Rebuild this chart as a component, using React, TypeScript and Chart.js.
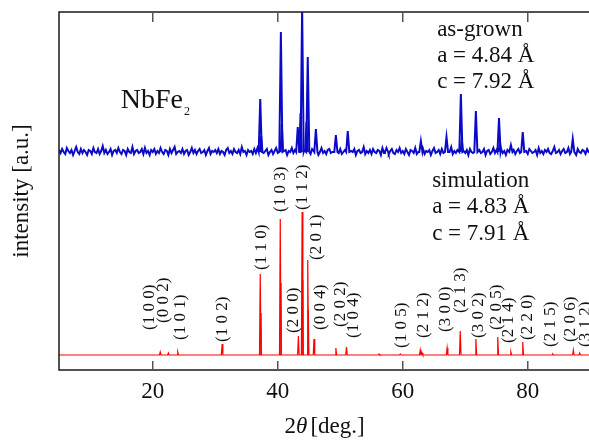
import React, { useEffect, useRef } from "react";
import { Chart, registerables } from "chart.js";

Chart.register(...registerables);

// ---------- data ----------
const X_MIN = 5;
const X_MAX = 90;
const X_TICKS = [20, 40, 60, 80];
const Y_MAX = 358;

// offsets (a.u.) of the two patterns
const EXP_BASE = 218;
const SIM_BASE = 15;

// simulated pattern: peak 2θ and intensity
const SIM_POS = [21.2, 22.5, 24.0, 31.1, 37.2, 40.4, 43.3, 43.9, 44.8, 45.8, 49.3, 51.0, 56.2, 59.6, 62.8, 63.1, 67.1, 69.2, 71.7, 75.2, 77.3, 79.2, 84.0, 87.3, 88.3];
const SIM_INT = [3, 2, 3, 11, 81, 136, 19, 143, 95, 16, 7, 8, 1, 1, 5, 2, 7, 24, 16, 18, 3, 13, 1, 5, 2];
// Kα2 companions of the strongest simulated lines
const SIM_K2_POS = [37.3, 40.5, 44.0, 44.9];
const SIM_K2_INT = [42, 72, 75, 45];

// Miller index labels
const HKL = ["(1 0 0)", "(0 0 2)", "(1 0 1)", "(1 0 2)", "(1 1 0)", "(1 0 3)", "(2 0 0)", "(1 1 2)", "(2 0 1)", "(0 0 4)", "(2 0 2)", "(1 0 4)", "(1 0 5)", "(2 1 2)", "(3 0 0)", "(2 1 3)", "(3 0 2)", "(2 0 5)", "(2 1 4)", "(2 2 0)", "(2 1 5)", "(2 0 6)", "(3 1 2)"];
const HKL_POS = [19.45, 21.7, 24.4, 31.1, 37.4, 40.4, 42.5, 44.0, 46.2, 46.8, 50.0, 52.1, 59.8, 63.3, 66.9, 69.3, 72.1, 75.0, 76.9, 79.9, 83.7, 86.8, 89.2];
const HKL_LEVEL = [40, 47, 30, 28, 100, 158, 37, 160, 110, 40, 43, 32, 22, 32, 38, 57, 32, 40, 27, 30, 23, 28, 23];

// measured (as-grown) pattern
const EXP_POS = [37.2, 40.5, 43.2, 43.9, 44.8, 46.1, 49.3, 51.2, 57.4, 62.9, 67.0, 69.3, 71.7, 75.4, 77.3, 79.2, 87.2];
const EXP_INT = [53, 120, 25, 145, 95, 23, 17, 21, 4, 11, 15, 58, 41, 34, 7, 20, 13];
const EXP_SH_POS = [37.35, 40.65, 43.65, 44.6, 69.45, 75.55];
const EXP_SH_INT = [16, 28, 39, 30, 12, 10];
// background noise of the measurement, every 0.25° from 5°
const EXP_NOISE = [
  2, -1, 3, 0, -2, 4, 1, -1, 2, -3, 1, 5, 0, -2, 3, -1, 2, 0, -3, 2,
  1, -2, 4, 0, -1, 3, -2, 1, 6, -1, 2, -2, 0, 3, -3, 1, 2, -1, 4, 0,
  -2, 2, 1, -3, 3, 0, -1, 5, -2, 1, 2, -1, 0, 3, -2, 4, -1, 1, -3, 2,
  0, 3, -2, 1, -1, 4, 0, -2, 2, 1, -3, 3, -1, 2, 5, -2, 0, 1, -1, 3,
  -2, 1, 2, -3, 0, 4, -1, 2, -2, 1, 3, -1, 0, 2, -3, 1, 4, -2, 1, 0,
  2, -1, 3, -2, 1, 0, -3, 2, 4, -1, 1, -2, 3, 0, -1, 2, -2, 5, 0, 1,
  -3, 2, 0, 1, -2, 3, -1, 4, -2, 0, 2, -1, 1, 3, -3, 0, 2, -2, 1, 4,
  -1, 0, 3, -2, 1, 2, -3, 1, 0, 4, -1, 2, -2, 1, 3, 0, -2, 2, -1, 6,
  0, -2, 3, 1, -1, 2, -3, 0, 4, -1, 1, -2, 2, 3, -1, 0, -3, 2, 1, -1,
  3, -2, 0, 2, -1, 4, -2, 1, 0, 3, -3, 1, 2, -1, 0, 5, -2, 1, -1, 2,
  -2, 3, 0, -1, 2, 1, -3, 4, -1, 0, 2, -2, 1, 3, -1, -2, 2, 0, 4, -1,
  1, -2, 3, 0, -3, 2, 1, -1, 4, -2, 0, 2, -1, 3, -2, 1, 0, 2, -3, 1,
  4, -1, 0, 2, -2, 3, -1, 1, -3, 2, 0, 5, -2, 1, -1, 2, 3, -2, 0, 1,
  -1, 2, -3, 3, 0, -1, 4, -2, 1, 2, -1, 0, 3, -3, 1, 2, -2, 0, 4, -1,
  2, 0, -2, 3, -1, 1, -3, 2, 5, -1, 0, 2, -2, 1, 3, -1, -2, 4, 0, 1,
  -2, 3, 1, -1, 0, 2, -3, 4, -1, 1, -2, 2, 0, 3, -1, -2, 1, 5, -1, 0,
  2, -2, 1, 3, -1, 0, 4, -2, 1, -1, 2, -3, 3, 0, -1, 2, 1, -2, 3, 0,
  -1,
];
const NOISE_STEP = 0.25;

const EXP_TEXT = ["as-grown", "a = 4.84 Å", "c = 7.92 Å"];
const SIM_TEXT = ["simulation", "a = 4.83 Å", "c = 7.91 Å"];
const SAMPLE = "NbFe";
const SAMPLE_SUB = "2";
const X_TITLE = ["2", "θ", "[deg.]"];
const Y_TITLE = "intensity [a.u.]";

// ---------- build datasets ----------
type P = { x: number; y: number | null };

function simSeries(): P[] {
  const pts: P[] = [{ x: X_MIN, y: SIM_BASE }];
  SIM_POS.forEach((p, i) => {
    pts.push({ x: p - 0.12, y: SIM_BASE });
    pts.push({ x: p, y: SIM_BASE + SIM_INT[i] });
    pts.push({ x: p + 0.12, y: SIM_BASE });
  });
  pts.push({ x: X_MAX, y: SIM_BASE });
  return pts;
}

function spikes(pos: number[], ints: number[], base: number, hw: number): P[] {
  const pts: P[] = [];
  pos.forEach((p, i) => {
    pts.push({ x: p - hw, y: base });
    pts.push({ x: p, y: base + ints[i] });
    pts.push({ x: p + hw, y: base });
    pts.push({ x: p + hw + 0.001, y: null });
  });
  return pts;
}

function expSeries(): P[] {
  const pts: P[] = [];
  EXP_NOISE.forEach((n, i) => {
    const x = X_MIN + i * NOISE_STEP;
    if (EXP_POS.some((p) => Math.abs(p - x) < 0.3)) return;
    pts.push({ x, y: EXP_BASE + n });
  });
  EXP_POS.forEach((p, i) => {
    pts.push({ x: p - 0.25, y: EXP_BASE });
    pts.push({ x: p, y: EXP_BASE + EXP_INT[i] });
    pts.push({ x: p + 0.25, y: EXP_BASE });
  });
  pts.sort((a, b) => a.x - b.x);
  return pts;
}

const FONT = '"Liberation Serif", "Times New Roman", serif';
const BLUE = "#0a0ac8";
const RED = "#ff0000";
const INK = "#111111";

const decor = {
  id: "decor",
  afterDatasetsDraw(chart: any) {
    const { ctx, chartArea: a, scales } = chart;
    const xs = scales.x;
    const ys = scales.y;
    ctx.save();

    // frame
    ctx.strokeStyle = "#1a1a1a";
    ctx.lineWidth = 1.5;
    ctx.strokeRect(a.left, a.top, a.right - a.left, a.bottom - a.top);

    // inward tick marks, bottom and top
    ctx.strokeStyle = "#555";
    ctx.lineWidth = 1.5;
    X_TICKS.forEach((v) => {
      const px = xs.getPixelForValue(v);
      ctx.beginPath();
      ctx.moveTo(px, a.bottom);
      ctx.lineTo(px, a.bottom - 9);
      ctx.moveTo(px, a.top);
      ctx.lineTo(px, a.top + 10);
      ctx.stroke();
    });

    ctx.fillStyle = INK;

    // Miller labels
    ctx.font = `17px ${FONT}`;
    ctx.textAlign = "left";
    ctx.textBaseline = "middle";
    HKL.forEach((t, i) => {
      ctx.save();
      ctx.translate(xs.getPixelForValue(HKL_POS[i]), ys.getPixelForValue(HKL_LEVEL[i]));
      ctx.rotate(-Math.PI / 2);
      ctx.fillText(t, 0, 0);
      ctx.restore();
    });

    // text blocks
    ctx.textBaseline = "alphabetic";
    ctx.font = `23px ${FONT}`;
    const expLevels = [334, 307.7, 281.7];
    EXP_TEXT.forEach((t, i) => ctx.fillText(t, xs.getPixelForValue(65.5), ys.getPixelForValue(expLevels[i])));
    const simLevels = [183.3, 156.7, 130];
    SIM_TEXT.forEach((t, i) => ctx.fillText(t, xs.getPixelForValue(64.7), ys.getPixelForValue(simLevels[i])));

    // sample name
    ctx.font = `28px ${FONT}`;
    const sx = xs.getPixelForValue(14.87);
    ctx.fillText(SAMPLE, sx, ys.getPixelForValue(261.7));
    const w = ctx.measureText(SAMPLE).width;
    ctx.font = `12px ${FONT}`;
    ctx.fillText(SAMPLE_SUB, sx + w + 1, ys.getPixelForValue(255));

    // x title
    ctx.font = `23px ${FONT}`;
    const w0 = ctx.measureText(X_TITLE[0]).width;
    ctx.font = `italic 23px ${FONT}`;
    const w1 = ctx.measureText(X_TITLE[1]).width;
    ctx.font = `23px ${FONT}`;
    const w2 = ctx.measureText(X_TITLE[2]).width;
    const gap = 3;
    const total = w0 + w1 + gap + w2;
    let tx = (a.left + a.right) / 2 - total / 2;
    const ty = a.bottom + 63.3;
    ctx.fillText(X_TITLE[0], tx, ty);
    tx += w0;
    ctx.font = `italic 23px ${FONT}`;
    ctx.fillText(X_TITLE[1], tx, ty);
    tx += w1 + gap;
    ctx.font = `23px ${FONT}`;
    ctx.fillText(X_TITLE[2], tx, ty);

    // y title
    ctx.save();
    ctx.translate(28, (a.top + a.bottom) / 2);
    ctx.rotate(-Math.PI / 2);
    ctx.textAlign = "center";
    ctx.fillText(Y_TITLE, 0, 0);
    ctx.restore();

    ctx.restore();
  },
};

export default function App() {
  const ref = useRef<HTMLCanvasElement>(null);
  useEffect(() => {
    const chart = new Chart(ref.current as HTMLCanvasElement, {
      type: "line",
      data: {
        datasets: [
          { data: spikes(EXP_SH_POS, EXP_SH_INT, EXP_BASE, 0.2), borderColor: BLUE, borderWidth: 2, pointRadius: 0, spanGaps: false },
          { data: expSeries(), borderColor: BLUE, borderWidth: 2, pointRadius: 0 },
          { data: spikes(SIM_K2_POS, SIM_K2_INT, SIM_BASE, 0.1), borderColor: RED, borderWidth: 1, pointRadius: 0, spanGaps: false },
          { data: simSeries(), borderColor: RED, borderWidth: 1.2, pointRadius: 0 },
        ] as any,
      },
      options: {
        responsive: false,
        animation: false,
        events: [],
        layout: { padding: { left: 59, top: 12, right: 1.75, bottom: 35 } },
        scales: {
          x: {
            type: "linear",
            min: X_MIN,
            max: X_MAX,
            grid: { display: false, drawTicks: false },
            border: { display: false },
            ticks: { font: { family: FONT, size: 23 }, color: INK, padding: 8, maxRotation: 0, autoSkip: false },
            afterBuildTicks: (s: any) => {
              s.ticks = X_TICKS.map((v) => ({ value: v }));
            },
            afterFit: (s: any) => {
              s.height = 36;
            },
          },
          y: { display: false, min: 0, max: Y_MAX },
        },
        plugins: { legend: { display: false }, tooltip: { enabled: false } },
      } as any,
      plugins: [decor],
    });
    return () => chart.destroy();
  }, []);
  return (
    <div style={{ position: "fixed", left: 0, top: 0, width: 589, height: 441, overflow: "hidden", background: "#fff" }}>
      <canvas ref={ref} width={592} height={441} style={{ display: "block" }} />
    </div>
  );
}
